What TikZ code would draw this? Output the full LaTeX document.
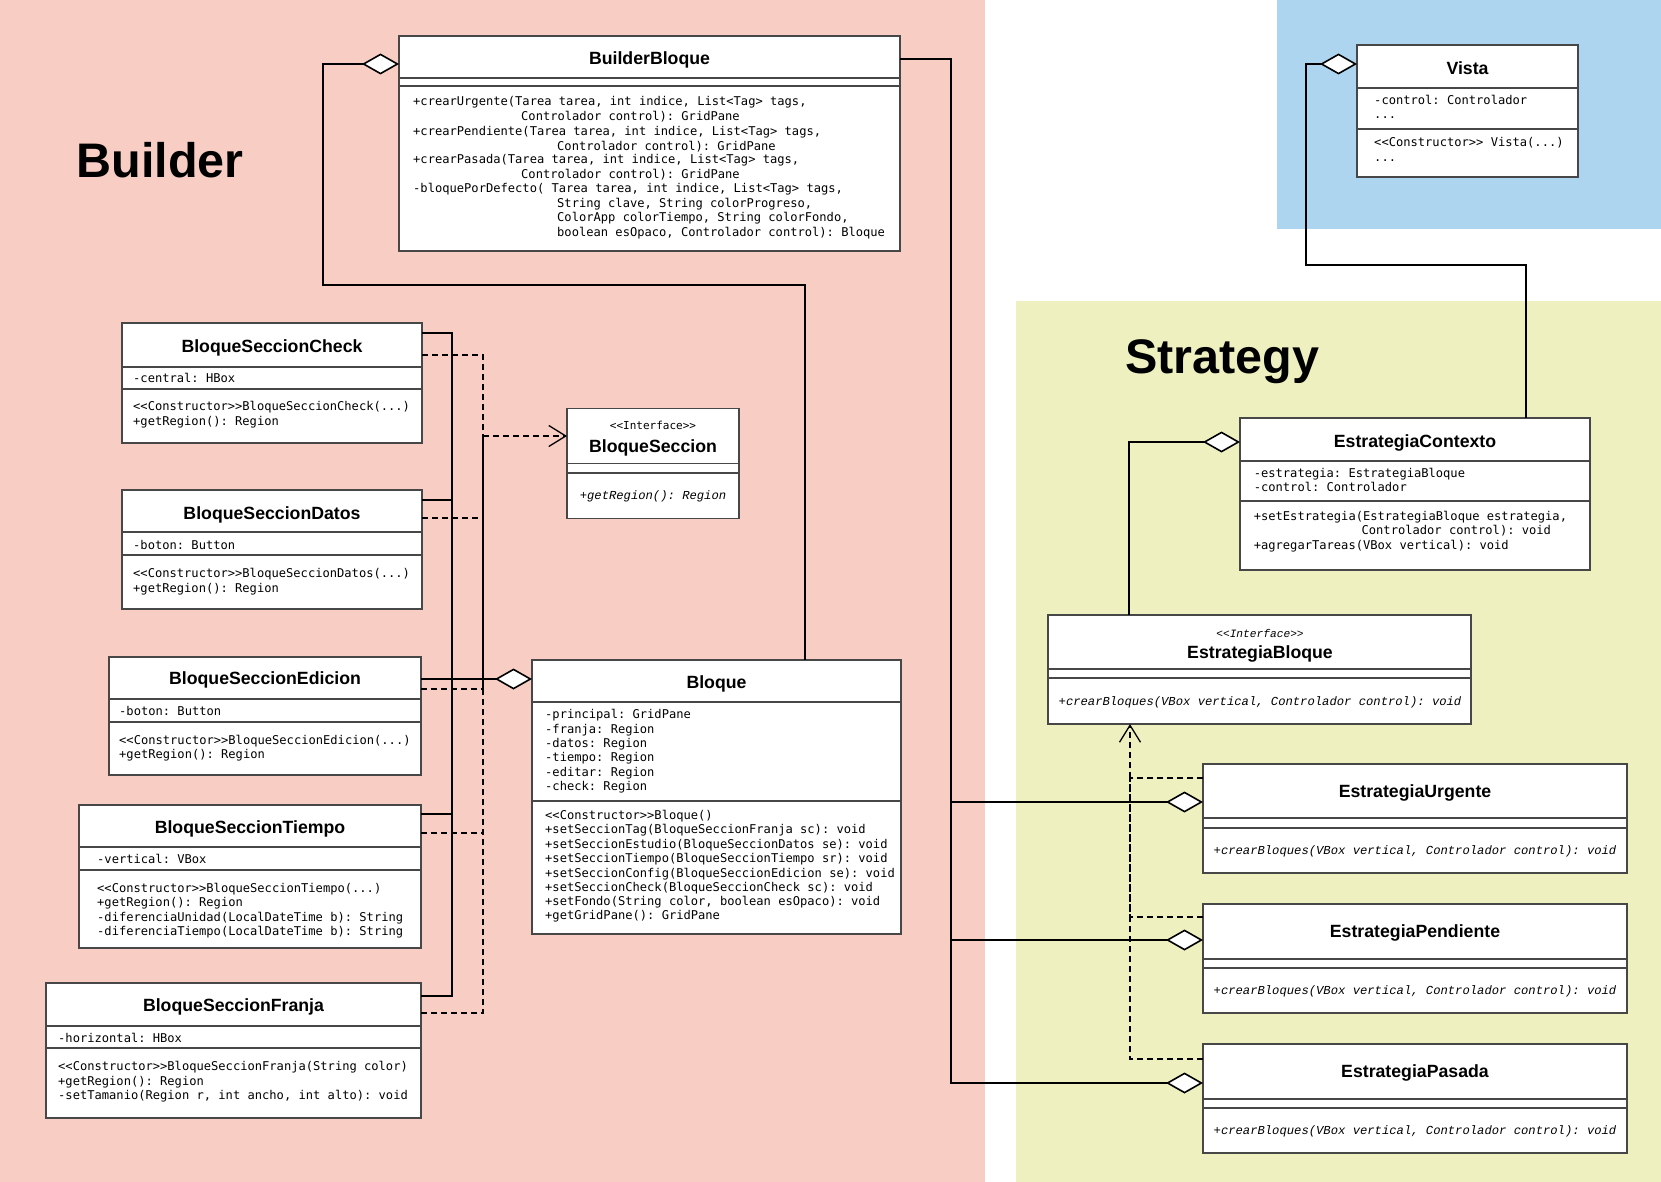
\documentclass[tikz,border=0pt]{standalone}
\usepackage{fontspec}
\setmainfont{Liberation Sans}
\setmonofont{DejaVu Sans Mono}[ItalicFont=Liberation Mono Italic]
\usetikzlibrary{arrows.meta,calc}
\definecolor{pinkbg}{RGB}{248,205,196}
\definecolor{greenbg}{RGB}{238,240,191}
\definecolor{bluebg}{RGB}{173,213,240}
\tikzset{
  boxst/.style={draw=black!72, line width=1.1pt, fill=white, inner sep=0pt, outer sep=0pt},
  sepst/.style={draw=black!72, line width=1.1pt},
  ttl/.style={font=\fontsize{17.7}{20}\selectfont\bfseries, anchor=base, inner sep=0pt},
  bigttl/.style={font=\fontsize{48.5}{50}\selectfont\bfseries, anchor=base, inner sep=0pt},
  mem/.style={font=\ttfamily\fontsize{12.1}{14.5}\selectfont, anchor=base west, inner sep=0pt},
  memi/.style={font=\ttfamily\itshape\fontsize{12.2}{14.5}\selectfont, anchor=base, inner sep=0pt},
  stereo/.style={font=\ttfamily\fontsize{11}{13}\selectfont, anchor=base, inner sep=0pt},
  stereoi/.style={font=\ttfamily\itshape\fontsize{11.2}{13}\selectfont, anchor=base, inner sep=0pt},
  conn/.style={draw=black, line width=1.6pt},
  dconn/.style={draw=black, line width=1.3pt, dash pattern=on 6pt off 4pt},
  diamondtip/.style={-{Diamond[fill=white,length=37pt,width=21pt]}},
  barbtip/.style={-{Straight Barb[length=17pt,width=21pt]}}
}
\newcommand\umlbox[7]{%
  \node[boxst, anchor=north west, minimum width=#4pt-#2pt, minimum height=#5pt-#3pt] (#1) at (#2,#3) {};
  \draw[sepst] (#2,#6) -- (#4,#6);
  \draw[sepst] (#2,#7) -- (#4,#7);
}
\begin{document}
\begin{tikzpicture}[x=1pt,y=-1pt]
\useasboundingbox (0,0) rectangle (1661,1182);
% backgrounds
\fill[pinkbg] (0,0) rectangle (985,1182);
\fill[greenbg] (1016,301) rectangle (1661,1182);
\fill[bluebg] (1277,0) rectangle (1661,229);

\node[bigttl] (tBuilder) at (160,178) {Builder};
\node[bigttl] (tStrategy) at (1222.5,373) {Strategy};

% ---------- boxes ----------
\umlbox{bb}{399}{36}{900}{251}{78}{86}
\umlbox{chk}{122}{323}{422}{443}{367}{389}
\umlbox{dat}{122}{490}{422}{609}{532}{555}
\umlbox{edi}{109}{657}{421}{775}{699}{722}
\umlbox{tie}{79}{805}{421}{948}{847}{870}
\umlbox{fra}{46}{983}{421}{1118}{1026}{1048}
\umlbox{bs}{567}{408.6}{739}{518.8}{463.7}{473}
\umlbox{blq}{532}{660}{901}{934}{702}{801}
\umlbox{vis}{1357}{45}{1578}{177}{88}{129}
\umlbox{ctx}{1240}{418}{1590}{570}{461}{501}
\umlbox{eb}{1048}{615}{1471}{724}{669}{678}
\umlbox{urg}{1203}{764}{1627}{873}{818}{828}
\umlbox{pen}{1203}{904}{1627}{1013}{959}{968}
\umlbox{pas}{1203}{1044}{1627}{1153}{1099}{1108}

% ---------- BuilderBloque ----------
\node[ttl] (bbT) at (649.5,64.5) {BuilderBloque};
\node[mem] (bb1) at (413,106) {+crearUrgente(Tarea tarea, int indice, List<Tag> tags,};
\node[mem] (bb2) at (521,121) {Controlador control): GridPane};
\node[mem] (bb3) at (413,135.5) {+crearPendiente(Tarea tarea, int indice, List<Tag> tags,};
\node[mem] (bb4) at (557,150.5) {Controlador control): GridPane};
\node[mem] (bb5) at (413,164) {+crearPasada(Tarea tarea, int indice, List<Tag> tags,};
\node[mem] (bb6) at (521,178.5) {Controlador control): GridPane};
\node[mem] (bb7) at (413,193) {-bloquePorDefecto( Tarea tarea, int indice, List<Tag> tags,};
\node[mem] (bb8) at (557,207.5) {String clave, String colorProgreso,};
\node[mem] (bb9) at (557,222) {ColorApp colorTiempo, String colorFondo,};
\node[mem] (bb10) at (557,236.5) {boolean esOpaco, Controlador control): Bloque};

% ---------- BloqueSeccionCheck ----------
\node[ttl] (chkT) at (272,352.5) {BloqueSeccionCheck};
\node[mem] (chk1) at (133,382) {-central: HBox};
\node[mem] (chk2) at (133,410) {<<Constructor>>BloqueSeccionCheck(...)};
\node[mem] (chk3) at (133,425) {+getRegion(): Region};

% ---------- BloqueSeccionDatos ----------
\node[ttl] (datT) at (272,519.5) {BloqueSeccionDatos};
\node[mem] (dat1) at (133,549) {-boton: Button};
\node[mem] (dat2) at (133,577) {<<Constructor>>BloqueSeccionDatos(...)};
\node[mem] (dat3) at (133,592) {+getRegion(): Region};

% ---------- BloqueSeccionEdicion ----------
\node[ttl] (ediT) at (265,684.5) {BloqueSeccionEdicion};
\node[mem] (edi1) at (119,715) {-boton: Button};
\node[mem] (edi2) at (119,744) {<<Constructor>>BloqueSeccionEdicion(...)};
\node[mem] (edi3) at (119,758) {+getRegion(): Region};

% ---------- BloqueSeccionTiempo ----------
\node[ttl] (tieT) at (250,833.5) {BloqueSeccionTiempo};
\node[mem] (tie1) at (97,863) {-vertical: VBox};
\node[mem] (tie2) at (97,892) {<<Constructor>>BloqueSeccionTiempo(...)};
\node[mem] (tie3) at (97,906) {+getRegion(): Region};
\node[mem] (tie4) at (97,921) {-diferenciaUnidad(LocalDateTime b): String};
\node[mem] (tie5) at (97,935) {-diferenciaTiempo(LocalDateTime b): String};

% ---------- BloqueSeccionFranja ----------
\node[ttl] (fraT) at (233.5,1011.5) {BloqueSeccionFranja};
\node[mem] (fra1) at (58,1042) {-horizontal: HBox};
\node[mem] (fra2) at (58,1070) {<<Constructor>>BloqueSeccionFranja(String color)};
\node[mem] (fra3) at (58,1085) {+getRegion(): Region};
\node[mem] (fra4) at (58,1099) {-setTamanio(Region r, int ancho, int alto): void};

% ---------- BloqueSeccion ----------
\node[stereo] (bsS) at (653,429.5) {<<Interface>>};
\node[ttl] (bsT) at (653,452) {BloqueSeccion};
\node[memi] (bs1) at (653,499.5) {+getRegion(): Region};

% ---------- Bloque ----------
\node[ttl] (blqT) at (716.5,688) {Bloque};
\node[mem] (blq1) at (545,718) {-principal: GridPane};
\node[mem] (blq2) at (545,733) {-franja: Region};
\node[mem] (blq3) at (545,747) {-datos: Region};
\node[mem] (blq4) at (545,761) {-tiempo: Region};
\node[mem] (blq5) at (545,776) {-editar: Region};
\node[mem] (blq6) at (545,790) {-check: Region};
\node[mem] (blq7) at (545,819) {<<Constructor>>Bloque()};
\node[mem] (blq8) at (545,833.5) {+setSeccionTag(BloqueSeccionFranja sc): void};
\node[mem] (blq9) at (545,848) {+setSeccionEstudio(BloqueSeccionDatos se): void};
\node[mem] (blq10) at (545,862) {+setSeccionTiempo(BloqueSeccionTiempo sr): void};
\node[mem] (blq11) at (545,877) {+setSeccionConfig(BloqueSeccionEdicion se): void};
\node[mem] (blq12) at (545,891) {+setSeccionCheck(BloqueSeccionCheck sc): void};
\node[mem] (blq13) at (545,905) {+setFondo(String color, boolean esOpaco): void};
\node[mem] (blq14) at (545,919.5) {+getGridPane(): GridPane};

% ---------- Vista ----------
\node[ttl] (visT) at (1467.5,74.5) {Vista};
\node[mem] (vis1) at (1374,105) {-control: Controlador};
\node[mem] (vis2) at (1374,119) {...};
\node[mem] (vis3) at (1374,147) {<<Constructor>> Vista(...)};
\node[mem] (vis4) at (1374,162) {...};

% ---------- EstrategiaContexto ----------
\node[ttl] (ctxT) at (1415,447.5) {EstrategiaContexto};
\node[mem] (ctx1) at (1253.6,477) {-estrategia: EstrategiaBloque};
\node[mem] (ctx2) at (1253.6,491) {-control: Controlador};
\node[mem] (ctx3) at (1253.6,520) {+setEstrategia(EstrategiaBloque estrategia,};
\node[mem] (ctx4) at (1361.4,534) {Controlador control): void};
\node[mem] (ctx5) at (1253.6,549) {+agregarTareas(VBox vertical): void};

% ---------- EstrategiaBloque ----------
\node[stereoi] (ebS) at (1260,637) {<<Interface>>};
\node[ttl] (ebT) at (1260,658.5) {EstrategiaBloque};
\node[memi] (eb1) at (1260,705) {+crearBloques(VBox vertical, Controlador control): void};

% ---------- concrete strategies ----------
\node[ttl] (urgT) at (1415,797.5) {EstrategiaUrgente};
\node[memi] (urg1) at (1415,854) {+crearBloques(VBox vertical, Controlador control): void};
\node[ttl] (penT) at (1415,937.5) {EstrategiaPendiente};
\node[memi] (pen1) at (1415,994) {+crearBloques(VBox vertical, Controlador control): void};
\node[ttl] (pasT) at (1415,1077.5) {EstrategiaPasada};
\node[memi] (pas1) at (1415,1134) {+crearBloques(VBox vertical, Controlador control): void};

% ---------- connectors ----------
% Bloque -> BuilderBloque
\coordinate (cB1) at (323,285);
\draw[conn, diamondtip] ([xshift=88.5pt]blq.north) |- (cB1) |- ([yshift=-28pt]bb.north west);

% sections -> Bloque (aggregation)
\coordinate (jL) at (452,679);
\draw[conn] ([yshift=-10pt]chk.north east) -| (jL);
\draw[conn] ([yshift=-10pt]dat.north east) -| (jL);
\draw[conn] ([yshift=-9pt]tie.north east) -| (jL);
\draw[conn] ([yshift=-13pt]fra.north east) -| (jL);
\draw[conn, diamondtip] ([yshift=-22pt]edi.north east) -- ([yshift=-19pt]blq.north west);

% sections realize BloqueSeccion
\coordinate (jD) at (483,436);
\draw[dconn] ([yshift=-32pt]chk.north east) -| (jD);
\draw[dconn] ([yshift=-28pt]dat.north east) -| (jD);
\draw[dconn] ([yshift=-32pt]edi.north east) -| (jD);
\draw[dconn] ([yshift=-28pt]tie.north east) -| (jD);
\draw[dconn] ([yshift=-30pt]fra.north east) -| (jD);
\draw[dconn, barbtip] (jD) -- (bs.west |- jD);

% BuilderBloque -> strategies
\coordinate (jR1) at (951,802);
\coordinate (jR2) at (951,940);
\draw[conn, diamondtip] ([yshift=-23pt]bb.north east) -| (jR1) -- ([yshift=-38pt]urg.north west);
\draw[conn, diamondtip] (jR1) |- ([yshift=-36pt]pen.north west);
\draw[conn, diamondtip] (jR2) |- ([yshift=-39pt]pas.north west);

% strategies realize EstrategiaBloque
\coordinate (jS) at (1130,778);
\draw[dconn] ([yshift=-14pt]urg.north west) -- (jS);
\draw[dconn] ([yshift=-13pt]pen.north west) -| (jS);
\draw[dconn] ([yshift=-15pt]pas.north west) -| (jS);
\draw[dconn, barbtip] (jS) -- (eb.south -| jS);

% EstrategiaBloque -> EstrategiaContexto
\draw[conn, diamondtip] ([xshift=81pt]eb.north west) |- ([yshift=-24pt]ctx.north west);

% EstrategiaContexto -> Vista
\coordinate (cV1) at (1306,265);
\draw[conn, diamondtip] ([xshift=285.7pt]ctx.north west) |- (cV1) |- ([yshift=-19pt]vis.north west);
\end{tikzpicture}
\end{document}
